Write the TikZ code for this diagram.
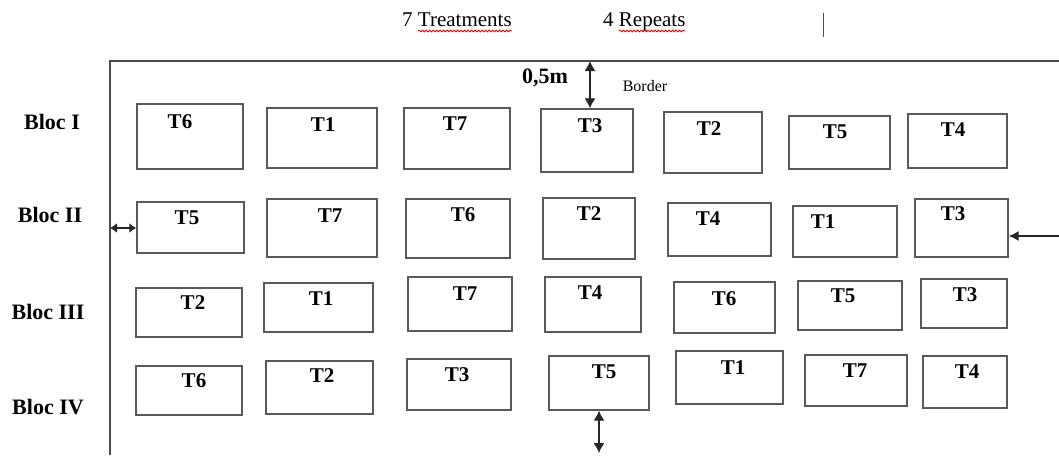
\documentclass[tikz,border=0pt]{standalone}
\usepackage{fontspec}
\setmainfont{Liberation Serif}
\usetikzlibrary{arrows.meta, decorations.pathmorphing, positioning}
\tikzset{
    parcel/.style args={#1 #2}{rectangle, draw=black!65, line width=1.4pt, minimum width=#1, minimum height=#2, inner sep=0pt},
    trt/.style={font=\fontsize{21}{23}\selectfont\bfseries, inner sep=0pt},
    bloc/.style={font=\fontsize{22}{24}\selectfont\bfseries, inner sep=0pt},
    toptext/.style={font=\fontsize{21}{23}\selectfont, inner sep=0pt, anchor=base west},
    frame/.style={draw=black!70, line width=1.3pt},
    gaparrow/.style={draw=black!85, line width=1.3pt, {Latex[length=10pt,width=11pt]}-{Latex[length=10pt,width=11pt]}},
    spell/.style={draw=red!85!black, line width=0.8pt, decorate, decoration={snake, amplitude=0.9pt, segment length=3.5pt}}
}
\begin{document}
\begin{tikzpicture}[x=1pt, y=-1pt]
    \useasboundingbox (0,0) rectangle (1059,455);
    \coordinate (fb) at (110,455);
    \coordinate (fc) at (110,61);
    \coordinate (fr) at (1059,61);
    \draw[frame] (fb) -- (fc) -- (fr);
    % heading
    \node[toptext] (ntrt) at (402,27) {7 Treatments};
    \node[toptext] (nrep) at (603,27) {4 Repeats};
    \draw[spell] ([xshift=16pt,yshift=-4pt]ntrt.base west) -- ([yshift=-4pt]ntrt.base east);
    \draw[spell] ([xshift=16pt,yshift=-4pt]nrep.base west) -- ([yshift=-4pt]nrep.base east);
    \draw[black!70, line width=1pt] (823,13) -- (823,37);
    % blocs
    \node[bloc] (b1) at (52,122) {Bloc I};
    \node[bloc] (b2) at (50,215) {Bloc II};
    \node[bloc] (b3) at (48,312) {Bloc III};
    \node[bloc] (b4) at (48,407) {Bloc IV};
    % bloc I
    \node[parcel={106pt 65pt}] (p11) at (190,136.5) {};
    \node[parcel={110pt 60pt}] (p12) at (322,138) {};
    \node[parcel={106pt 61pt}] (p13) at (457,138.5) {};
    \node[parcel={92pt 63pt}] (p14) at (587,140.5) {};
    \node[parcel={98pt 61pt}] (p15) at (713,142.5) {};
    \node[parcel={101pt 53pt}] (p16) at (839.5,142.5) {};
    \node[parcel={99pt 54pt}] (p17) at (957.5,141) {};
    \node[trt] (l11) at (180,122) {T6};
    \node[trt] (l12) at (323,125) {T1};
    \node[trt] (l13) at (455,124) {T7};
    \node[trt] (l14) at (590,126) {T3};
    \node[trt] (l15) at (709,129) {T2};
    \node[trt] (l16) at (835,132) {T5};
    \node[trt] (l17) at (953,130) {T4};
    % bloc II
    \node[parcel={107pt 51pt}] (p21) at (190.5,227.5) {};
    \node[parcel={110pt 58pt}] (p22) at (322,228) {};
    \node[parcel={104pt 59pt}] (p23) at (458,228.5) {};
    \node[parcel={92pt 61pt}] (p24) at (589,228.5) {};
    \node[parcel={103pt 53pt}] (p25) at (719.5,229.5) {};
    \node[parcel={104pt 51pt}] (p26) at (845,231.5) {};
    \node[parcel={93pt 58pt}] (p27) at (961.5,228) {};
    \node[trt] (l21) at (187,218) {T5};
    \node[trt] (l22) at (330,216) {T7};
    \node[trt] (l23) at (463,215) {T6};
    \node[trt] (l24) at (589,214) {T2};
    \node[trt] (l25) at (708,219) {T4};
    \node[trt] (l26) at (823,222) {T1};
    \node[trt] (l27) at (953,214) {T3};
    % bloc III
    \node[parcel={106pt 49pt}] (p31) at (189,312.5) {};
    \node[parcel={109pt 49pt}] (p32) at (318.5,307.5) {};
    \node[parcel={104pt 54pt}] (p33) at (460,304) {};
    \node[parcel={96pt 55pt}] (p34) at (593,304.5) {};
    \node[parcel={101pt 51pt}] (p35) at (724.5,307.5) {};
    \node[parcel={104pt 49pt}] (p36) at (850,305.5) {};
    \node[parcel={86pt 49pt}] (p37) at (964,303.5) {};
    \node[trt] (l31) at (193,303) {T2};
    \node[trt] (l32) at (321,299) {T1};
    \node[trt] (l33) at (465,294) {T7};
    \node[trt] (l34) at (590,293) {T4};
    \node[trt] (l35) at (724,299) {T6};
    \node[trt] (l36) at (843,296) {T5};
    \node[trt] (l37) at (965,295) {T3};
    % bloc IV
    \node[parcel={106pt 49pt}] (p41) at (189,390.5) {};
    \node[parcel={107pt 53pt}] (p42) at (319.5,387.5) {};
    \node[parcel={104pt 51pt}] (p43) at (459,384.5) {};
    \node[parcel={100pt 54pt}] (p44) at (599,383) {};
    \node[parcel={107pt 53pt}] (p45) at (729.5,377.5) {};
    \node[parcel={102pt 51pt}] (p46) at (856,380.5) {};
    \node[parcel={84pt 52pt}] (p47) at (965,382) {};
    \node[trt] (l41) at (194,381) {T6};
    \node[trt] (l42) at (322,376) {T2};
    \node[trt] (l43) at (457,375) {T3};
    \node[trt] (l44) at (604,372) {T5};
    \node[trt] (l45) at (733,368) {T1};
    \node[trt] (l46) at (855,371) {T7};
    \node[trt] (l47) at (967,372) {T4};
    % border
    \node[font=\fontsize{22}{24}\selectfont\bfseries, inner sep=0pt] (nhalf) at (545,78) {0,5m};
    \node[font=\fontsize{16}{18}\selectfont, inner sep=0pt] (nbord) at (645,86) {Border};
    \coordinate (tg) at (590,61);
    \coordinate (lg) at (110,228);
    \coordinate (rg) at (1059,236);
    \coordinate (bg) at (599,453);
    \draw[gaparrow] (tg) -- (tg |- p14.north);
    \draw[gaparrow, {Latex[length=7pt,width=10pt]}-{Latex[length=7pt,width=10pt]}] (lg) -- (lg -| p21.west);
    \draw[draw=black!85, line width=1.3pt, -{Latex[length=10pt,width=10pt]}] (rg) -- (rg -| p27.east);
    \draw[gaparrow] (p44.south) -- (bg);
\end{tikzpicture}
\end{document}
